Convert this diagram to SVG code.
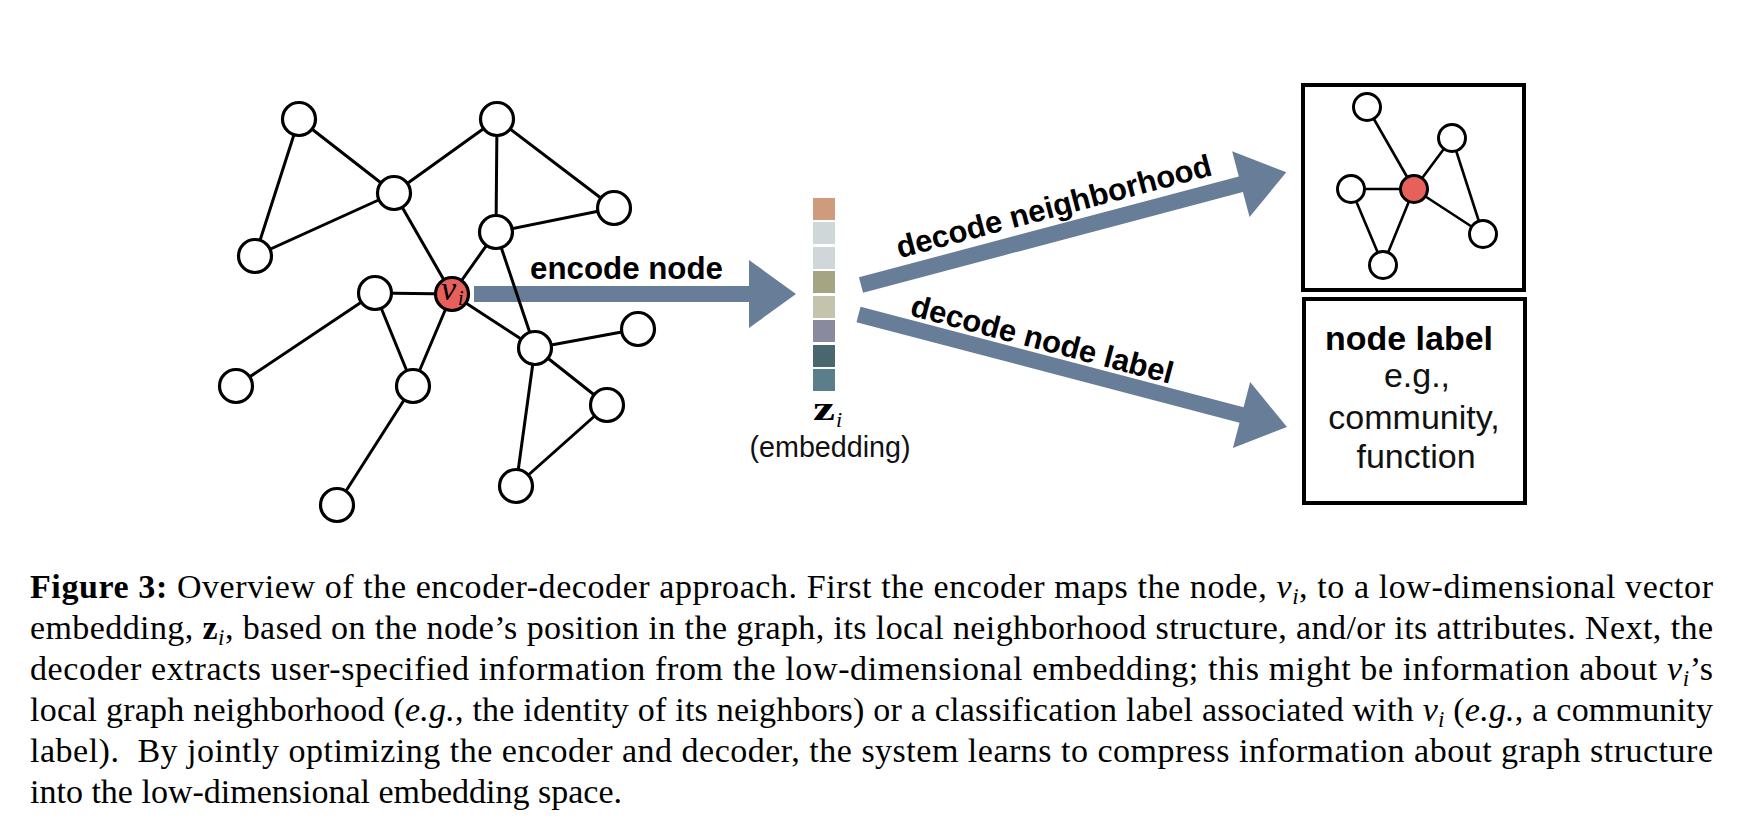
<svg xmlns="http://www.w3.org/2000/svg" width="1742" height="820" viewBox="0 0 1742 820">
<style>
.bg{fill:#ffffff}
.edge{stroke:#000;stroke-width:3;fill:none;stroke-linecap:round}
.sedge{stroke:#000;stroke-width:2.6;fill:none;stroke-linecap:round}
.node{fill:#fff;stroke:#000;stroke-width:3.2}
.snode{fill:#fff;stroke:#000;stroke-width:3}
.red{fill:#E8605A;stroke:#000;stroke-width:3.2}
.arrow{fill:#687E98}
.lbl{font-family:"Liberation Sans",Arial,sans-serif;font-weight:bold;font-size:31px;fill:#000}
.light{font-family:"Liberation Sans",Arial,sans-serif;font-size:34px;fill:#111}
.box{fill:none;stroke:#000;stroke-width:4}
.cap{font-family:"Liberation Serif","Times New Roman",serif;font-size:34px;fill:#000}
.math{font-family:"Liberation Serif","Times New Roman",serif;fill:#000}
</style>
<rect class="bg" x="0" y="0" width="1742" height="820"/>

<g id="connectors">
  <polygon class="arrow" transform="translate(474,294)" points="0,-8 275,-8 275,-34 322,0 275,34 275,8 0,8"/>
  <polygon class="arrow" transform="translate(861,285) rotate(-14.86)" points="0,-8 393,-8 393,-34 440,0 393,34 393,8 0,8"/>
  <polygon class="arrow" transform="translate(858.5,314.5) rotate(14.7)" points="0,-8 396,-8 396,-34 443,0 396,34 396,8 0,8"/>
  <g id="graph-edges">
    <line class="edge" x1="299" y1="119" x2="394" y2="193"/>
    <line class="edge" x1="299" y1="119" x2="255" y2="256"/>
    <line class="edge" x1="255" y1="256" x2="394" y2="193"/>
    <line class="edge" x1="394" y1="193" x2="497" y2="119"/>
    <line class="edge" x1="497" y1="119" x2="496" y2="232"/>
    <line class="edge" x1="497" y1="119" x2="614" y2="208"/>
    <line class="edge" x1="496" y1="232" x2="614" y2="208"/>
    <line class="edge" x1="394" y1="193" x2="452" y2="294"/>
    <line class="edge" x1="496" y1="232" x2="452" y2="294"/>
    <line class="edge" x1="496" y1="232" x2="535" y2="348"/>
    <line class="edge" x1="452" y1="294" x2="375" y2="293"/>
    <line class="edge" x1="452" y1="294" x2="413" y2="386"/>
    <line class="edge" x1="452" y1="294" x2="535" y2="348"/>
    <line class="edge" x1="375" y1="293" x2="236" y2="386"/>
    <line class="edge" x1="375" y1="293" x2="413" y2="386"/>
    <line class="edge" x1="413" y1="386" x2="337" y2="505"/>
    <line class="edge" x1="535" y1="348" x2="638" y2="329"/>
    <line class="edge" x1="535" y1="348" x2="607" y2="405"/>
    <line class="edge" x1="535" y1="348" x2="516" y2="486"/>
    <line class="edge" x1="607" y1="405" x2="516" y2="486"/>
  </g>
  <g id="small-edges">
    <line class="sedge" x1="1367" y1="107" x2="1414" y2="189"/>
    <line class="sedge" x1="1414" y1="189" x2="1452" y2="138"/>
    <line class="sedge" x1="1414" y1="189" x2="1351" y2="189"/>
    <line class="sedge" x1="1414" y1="189" x2="1483" y2="234"/>
    <line class="sedge" x1="1452" y1="138" x2="1483" y2="234"/>
    <line class="sedge" x1="1351" y1="189" x2="1383" y2="265"/>
    <line class="sedge" x1="1414" y1="189" x2="1383" y2="265"/>
  </g>
</g>

<g id="arrow-labels">
  <text class="lbl" x="530" y="279" textLength="193" lengthAdjust="spacingAndGlyphs">encode node</text>
  <text class="lbl" transform="translate(861,285) rotate(-14.86)" x="44" y="-16" textLength="325" lengthAdjust="spacingAndGlyphs">decode neighborhood</text>
  <text class="lbl" transform="translate(858.5,314.5) rotate(14.7)" x="49" y="-12" textLength="270" lengthAdjust="spacingAndGlyphs">decode node label</text>
</g>

<g id="n-A"><circle class="node" cx="299" cy="119" r="16.5"/></g>
<g id="n-B"><circle class="node" cx="497" cy="119" r="16.5"/></g>
<g id="n-C"><circle class="node" cx="394" cy="193" r="16.5"/></g>
<g id="n-D"><circle class="node" cx="614" cy="208" r="16.5"/></g>
<g id="n-E"><circle class="node" cx="496" cy="232" r="16.5"/></g>
<g id="n-F"><circle class="node" cx="255" cy="256" r="16.5"/></g>
<g id="n-G"><circle class="node" cx="375" cy="293" r="16.5"/></g>
<g id="n-H"><circle class="node" cx="638" cy="329" r="16.5"/></g>
<g id="n-I"><circle class="node" cx="535" cy="348" r="16.5"/></g>
<g id="n-J"><circle class="node" cx="236" cy="386" r="16.5"/></g>
<g id="n-K"><circle class="node" cx="413" cy="386" r="16.5"/></g>
<g id="n-L"><circle class="node" cx="607" cy="405" r="16.5"/></g>
<g id="n-M"><circle class="node" cx="516" cy="486" r="16.5"/></g>
<g id="n-N"><circle class="node" cx="337" cy="505" r="16.5"/></g>
<g id="n-vi">
  <circle class="red" cx="452" cy="294" r="16.5"/>
  <text class="math" x="441" y="300" font-size="34" font-style="italic">v</text>
  <text class="math" x="458" y="305" font-size="20" font-style="italic">i</text>
</g>

<g id="embedding">
  <rect x="813" y="198" width="22" height="22" fill="#CE9B7C"/>
  <rect x="813" y="222" width="22" height="22" fill="#CFD7D9"/>
  <rect x="813" y="247" width="22" height="22" fill="#CFD7D9"/>
  <rect x="813" y="271" width="22" height="22" fill="#A5A583"/>
  <rect x="813" y="296" width="22" height="22" fill="#C4C4AD"/>
  <rect x="813" y="320" width="22" height="22" fill="#898A9D"/>
  <rect x="813" y="345" width="22" height="22" fill="#48676F"/>
  <rect x="813" y="369" width="22" height="22" fill="#5A7F8B"/>
  <text class="math" x="813" y="420" font-size="34" font-weight="bold" textLength="22" lengthAdjust="spacingAndGlyphs">z</text>
  <text class="math" x="836" y="427" font-size="22" font-style="italic">i</text>
  <text class="light" x="830" y="457" text-anchor="middle" textLength="161" lengthAdjust="spacingAndGlyphs" style="font-size:29px">(embedding)</text>
</g>

<g id="neighborhood-box">
  <rect class="box" x="1303" y="85" width="221" height="205"/>
  <circle class="snode" cx="1367" cy="107" r="13.5"/>
  <circle class="snode" cx="1452" cy="138" r="13.5"/>
  <circle class="snode" cx="1351" cy="189" r="13.5"/>
  <circle class="snode" cx="1483" cy="234" r="13.5"/>
  <circle class="snode" cx="1383" cy="265" r="13.5"/>
  <circle class="red" cx="1414" cy="189" r="13.5" style="stroke-width:3"/>
</g>

<g id="label-box">
  <rect class="box" x="1304" y="299" width="221" height="204"/>
  <text class="light" x="1325" y="350" style="font-weight:bold;fill:#000" textLength="168" lengthAdjust="spacingAndGlyphs">node label</text>
  <text class="light" x="1417" y="387" text-anchor="middle">e.g.,</text>
  <text class="light" x="1414" y="429" text-anchor="middle">community,</text>
  <text class="light" x="1416" y="468" text-anchor="middle">function</text>
</g>

<g id="caption">
  <text class="cap" x="30" y="598" textLength="1683" lengthAdjust="spacing"><tspan font-weight="bold">Figure 3:</tspan> Overview of the encoder-decoder approach. First the encoder maps the node, <tspan font-style="italic">v</tspan><tspan font-size="23" dy="6" font-style="italic">i</tspan><tspan dy="-6">, to a low-dimensional vector</tspan></text>
  <text class="cap" x="30" y="639" textLength="1683" lengthAdjust="spacing">embedding, <tspan font-weight="bold">z</tspan><tspan font-size="23" dy="6" font-style="italic">i</tspan><tspan dy="-6">, based on the node’s position in the graph, its local neighborhood structure, and/or its attributes. Next, the</tspan></text>
  <text class="cap" x="30" y="680" textLength="1683" lengthAdjust="spacing">decoder extracts user-specified information from the low-dimensional embedding; this might be information about <tspan font-style="italic">v</tspan><tspan font-size="23" dy="6" font-style="italic">i</tspan><tspan dy="-6">’s</tspan></text>
  <text class="cap" x="30" y="721" textLength="1683" lengthAdjust="spacing">local graph neighborhood (<tspan font-style="italic">e.g.</tspan>, the identity of its neighbors) or a classification label associated with <tspan font-style="italic">v</tspan><tspan font-size="23" dy="6" font-style="italic">i</tspan><tspan dy="-6"> (</tspan><tspan font-style="italic">e.g.</tspan>, a community</text>
  <text class="cap" x="30" y="762" textLength="1683" lengthAdjust="spacing">label).&#160; By jointly optimizing the encoder and decoder, the system learns to compress information about graph structure</text>
  <text class="cap" x="30" y="803">into the low-dimensional embedding space.</text>
</g>
</svg>
